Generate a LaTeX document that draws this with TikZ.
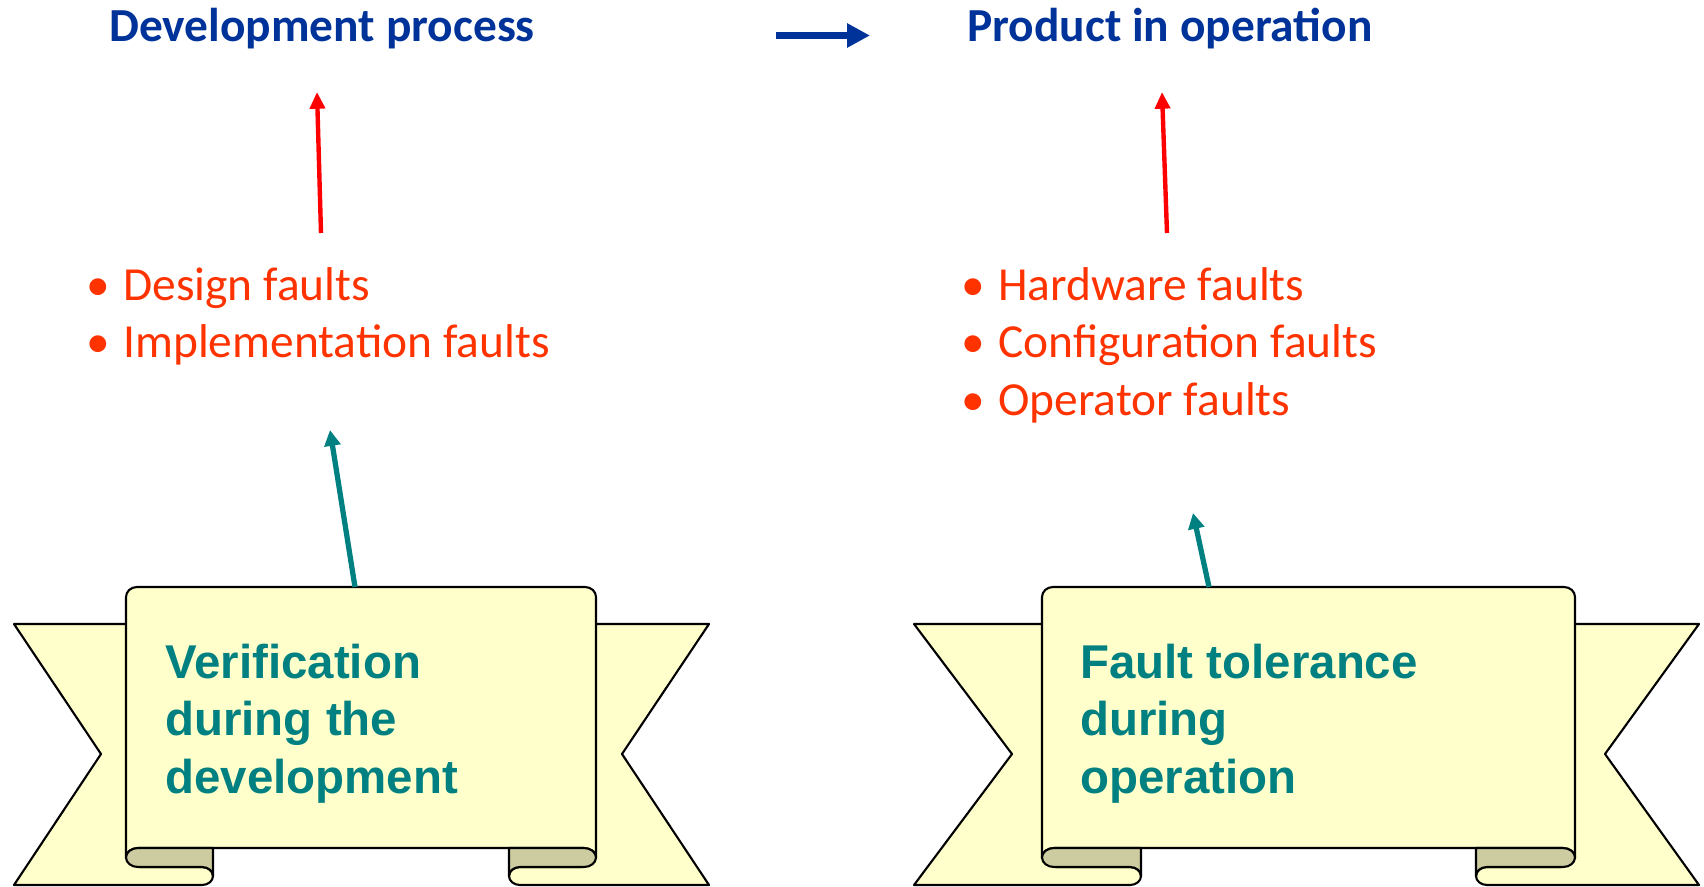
\documentclass[tikz,border=0pt]{standalone}
\usepackage{fontspec}
\setmainfont{Carlito}
\newfontfamily\bannerfont{Liberation Sans}
\usetikzlibrary{arrows.meta}

\definecolor{titleblue}{RGB}{0,51,153}
\definecolor{faultred}{RGB}{255,51,0}
\definecolor{arrowred}{RGB}{255,0,0}
\definecolor{tealc}{RGB}{0,128,128}
\definecolor{ribbon}{RGB}{255,255,204}
\definecolor{foldc}{RGB}{204,204,160}

\tikzset{
  banner/.style={fill=ribbon, draw=black, line width=1.2pt, line join=round},
  fold/.style={fill=foldc, draw=black, line width=1.2pt, line join=round},
  title/.style={font=\fontsize{27}{32}\selectfont\bfseries, text=titleblue, anchor=base west, inner sep=0pt},
  fault/.style={font=\fontsize{27}{32}\selectfont, text=faultred, anchor=base west, inner sep=0pt},
  bannertext/.style={font=\bannerfont\bfseries\fontsize{27}{32.7}\selectfont, text=tealc, align=left, anchor=base west, inner sep=0pt},
  flowarrow/.style={draw=titleblue, line width=4.3pt, -{Triangle[length=13pt,width=13pt]}},
  redarrow/.style={draw=arrowred, line width=2.5pt, -{Triangle[length=9.5pt,width=8.5pt]}},
  tealarrow/.style={draw=tealc, line width=3pt, -{Triangle[length=9pt,width=9pt]}},
}

% bullet placed in front of a line of text
\newcommand\bul{\llap{\makebox[21pt][l]{\textbullet}}}

% scroll banner: outer left, notch left, panel left, fold end left,
% fold start right, panel right, notch right, outer right
\newcommand\ribbonbanner[8]{%
  \path[banner] (#1,624) -- (#3+14,624) -- (#3+14,867) -- (#4-11,867)
    arc[start angle=-90,end angle=90,x radius=11,y radius=9] -- (#1,885) -- (#2,754) -- cycle;
  \path[banner] (#8,624) -- (#6-14,624) -- (#6-14,867) -- (#5+11,867)
    arc[start angle=-90,end angle=-270,x radius=11,y radius=9] -- (#8,885) -- (#7,754) -- cycle;
  \path[banner] (#3,857.5) -- (#3,597)
    arc[start angle=180,end angle=270,x radius=11,y radius=10] -- (#6-11,587)
    arc[start angle=270,end angle=360,x radius=11,y radius=10] -- (#6,857.5)
    arc[start angle=0,end angle=-90,x radius=12,y radius=9.5] -- (#3+12,848)
    arc[start angle=-90,end angle=-180,x radius=12,y radius=9.5] -- cycle;
  \path[fold] (#3+12,848) -- (#4,848) -- (#4,876)
    arc[start angle=0,end angle=-90,x radius=11,y radius=9] -- (#3+12,867)
    arc[start angle=90,end angle=270,x radius=12,y radius=9.5] -- cycle;
  \path[fold] (#6-12,848) -- (#5,848) -- (#5,876)
    arc[start angle=180,end angle=270,x radius=11,y radius=9] -- (#6-12,867)
    arc[start angle=90,end angle=-90,x radius=12,y radius=9.5] -- cycle;
}

\begin{document}
\begin{tikzpicture}[x=0.02cm, y=-0.02cm]
\useasboundingbox (0,0) rectangle (1704,886);

% phase titles
\node[title] (dev) at (109,41) {Development process};
\node[title] (prod) at (967,41) {Product in operation};
\coordinate (flowA) at (776,35.5);
\coordinate (flowB) at (870,35.5);
\draw[flowarrow] (flowA) -- (flowB);

% fault classes
\node[fault] (design) at (123,300) {\bul Design faults};
\node[fault] (impl) at (123,357) {\bul Implementation faults};
\node[fault] (hw) at (998,300) {\bul Hardware faults};
\node[fault] (conf) at (998,357) {\bul Configuration faults};
\node[fault] (oper) at (998,415) {\bul Operator faults};

% faults arising in each phase
\coordinate (devfoot) at (321,233);
\coordinate (devhead) at (317,92);
\coordinate (prodfoot) at (1167,233);
\coordinate (prodhead) at (1162,92);
\draw[redarrow] (devfoot) -- (devhead);
\draw[redarrow] (prodfoot) -- (prodhead);

% countermeasure banners
\ribbonbanner{14}{101}{126}{213}{509}{596}{622}{709}
\ribbonbanner{914}{1012}{1042}{1141}{1476}{1575}{1605}{1699}
% the base anchor of a multi-line node sits on its last line
\node[bannertext] (verif) at (165,793) {Verification\\during the\\development};
\node[bannertext] (ftol) at (1080,793) {Fault tolerance\\during\\operation};

\coordinate (verfoot) at (355,587);
\coordinate (verhead) at (330,430);
\coordinate (ftfoot) at (1209,587);
\coordinate (fthead) at (1193,513);
\draw[tealarrow] (verfoot) -- (verhead);
\draw[tealarrow] (ftfoot) -- (fthead);
\end{tikzpicture}
\end{document}
